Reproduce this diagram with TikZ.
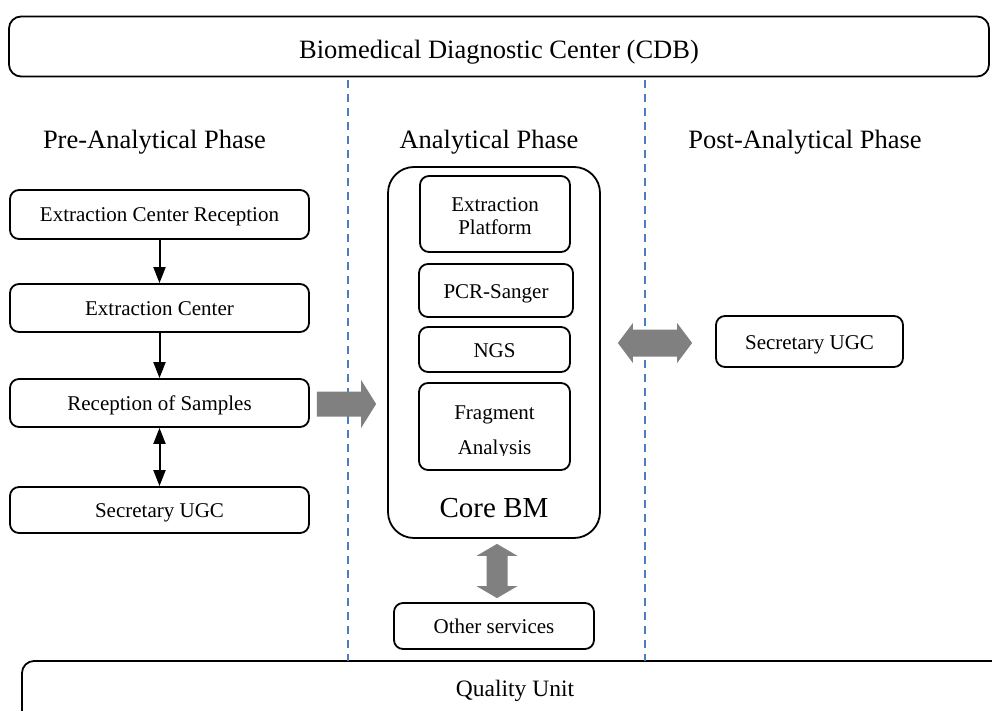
\documentclass[tikz,border=0pt]{standalone}
\usepackage{fontspec}
\setmainfont{Liberation Serif}
\usetikzlibrary{arrows.meta,calc}
\definecolor{divblue}{RGB}{74,126,193}
\definecolor{arrowgray}{RGB}{128,128,128}

\begin{document}
\begin{tikzpicture}[x=1pt,y=-1pt,
  box/.style={draw, line width=1.8pt, rounded corners=9pt, inner sep=0pt,
              align=center, text height=16pt, text depth=1pt,
              font=\fontsize{21}{23}\selectfont},
  phase/.style={inner sep=0pt, anchor=base, font=\fontsize{26.5}{30}\selectfont},
  plain/.style={inner sep=0pt, anchor=base, font=\fontsize{21}{23}\selectfont},
  flow/.style={line width=2pt, -{Triangle[length=16pt,width=12pt]}},
  flowboth/.style={line width=2pt, {Triangle[length=16pt,width=12pt]}-{Triangle[length=16pt,width=12pt]}},
  divider/.style={draw=divblue, line width=2pt, dash pattern=on 8pt off 6pt},
  block/.style={fill=arrowgray}
]
\clip (0,0) rectangle (992,711);

% header and quality frame
\node[box, rounded corners=12pt, minimum width=980, minimum height=60,
      text height=26pt, text depth=1pt,
      font=\fontsize{26.5}{30}\selectfont] (top) at (499,46.5) {Biomedical Diagnostic Center (CDB)};
\draw[line width=1.8pt, rounded corners=12pt] (22,780) -- (22,661) -- (1030,661);
\node[inner sep=0pt, anchor=base, font=\fontsize{23.5}{26}\selectfont] (quality) at (515,696) {Quality Unit};

% phase headings
\node[phase] (pre)  at (154.5,149) {Pre-Analytical Phase};
\node[phase] (ana)  at (489,149)   {Analytical Phase};
\node[phase] (post) at (805,149)   {Post-Analytical Phase};

% phase dividers
\coordinate (d1top) at (348,80);  \coordinate (d1bot) at (348,661);
\coordinate (d2top) at (645,80);  \coordinate (d2bot) at (645,661);
\draw[divider] (d1top) -- (d1bot);
\draw[divider] (d2top) -- (d2bot);

% pre-analytical chain
\node[box, minimum width=299, minimum height=49] (ecr)  at (159.5,214.5) {Extraction Center Reception};
\node[box, minimum width=299, minimum height=48] (ec)   at (159.5,308)   {Extraction Center};
\node[box, minimum width=299, minimum height=48] (ros)  at (159.5,403)   {Reception of Samples};
\node[box, minimum width=299, minimum height=46] (sec1) at (159.5,510)   {Secretary UGC};
\draw[flow] (ecr) -- (ec);
\draw[flow] (ec) -- (ros);
\draw[flowboth] (ros) -- (sec1);

% analytical core
\node[box, rounded corners=26pt, minimum width=212, minimum height=371] (core) at (494,352.5) {};
\node[box, minimum width=150, minimum height=76] (ep)  at (495,214)   {};
\node[plain] (ep1) at (495,212) {Extraction};
\node[plain] (ep2) at (495,235) {Platform};
\node[box, minimum width=154, minimum height=53] (pcr) at (496,290.5) {PCR-Sanger};
\node[box, minimum width=151, minimum height=45] (ngs) at (494.5,349.5) {NGS};
\node[box, minimum width=151, minimum height=87] (fa)  at (494.5,426.5) {};
\node[plain] (fa1) at (494.5,419) {Fragment};
\begin{scope}
  \clip (fa.west |- 0,430) rectangle (fa.east |- 0,455);
  \node[plain] (fa2) at (494.5,454.5) {Analysis};
\end{scope}
\node[inner sep=0pt, anchor=base, font=\fontsize{29}{32}\selectfont] (corelbl) at (494,517) {Core BM};

\node[box, minimum width=200, minimum height=46] (other) at (494,626)   {Other services};
\node[box, minimum width=187, minimum height=51] (sec2)  at (809.5,341.5) {Secretary UGC};

% block arrow: reception -> core
\coordinate (a1) at ($(ros.east)+(7,1)$);
\coordinate (a2) at ($(core.west |- a1)+(-11,0)$);
\fill[block] ($(a1)+(0,-12.5)$) -- ($(a2)+(-15,-12.5)$) -- ($(a2)+(-15,-24)$) -- (a2)
  -- ($(a2)+(-15,24)$) -- ($(a2)+(-15,12.5)$) -- ($(a1)+(0,12.5)$) -- cycle;

% block arrow: core <-> secretary
\coordinate (h1) at ($(core.east |- sec2.west)+(17,1.5)$);
\coordinate (h2) at ($(sec2.west)+(-23,1.5)$);
\fill[block] (h1) -- ($(h1)+(15,-20)$) -- ($(h1)+(15,-13.5)$) -- ($(h2)+(-15,-13.5)$)
  -- ($(h2)+(-15,-20)$) -- (h2) -- ($(h2)+(-15,20)$) -- ($(h2)+(-15,13.5)$)
  -- ($(h1)+(15,13.5)$) -- ($(h1)+(15,20)$) -- cycle;

% block arrow: core <-> other services
\coordinate (v1) at ($(core.south -| other.north)+(3,5)$);
\coordinate (v2) at ($(other.north)+(3,-4)$);
\fill[block] (v1) -- ($(v1)+(20.5,12)$) -- ($(v1)+(10.5,12)$) -- ($(v2)+(10.5,-12)$)
  -- ($(v2)+(20.5,-12)$) -- (v2) -- ($(v2)+(-20.5,-12)$) -- ($(v2)+(-10.5,-12)$)
  -- ($(v1)+(-10.5,12)$) -- ($(v1)+(-20.5,12)$) -- cycle;
\end{tikzpicture}
\end{document}
